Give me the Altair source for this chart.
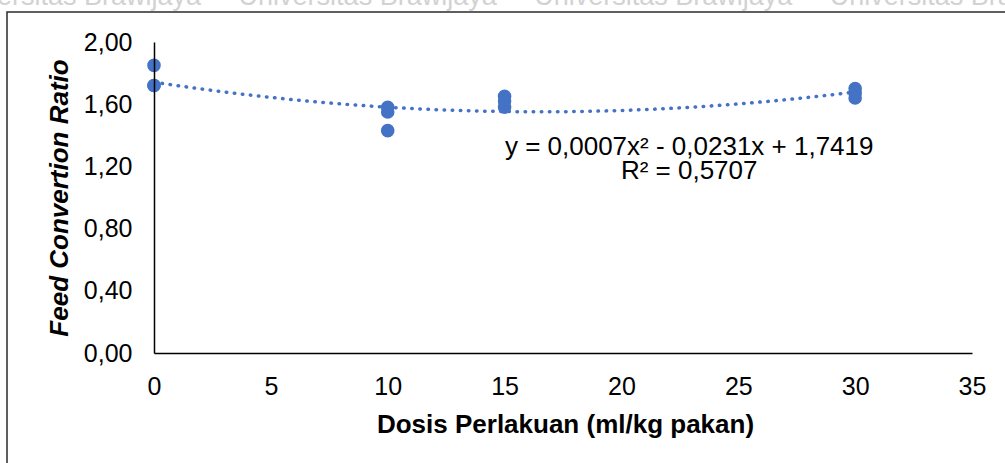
import altair as alt
import numpy as np
import pandas as pd

# Feed conversion ratio per dose, three replicates each
dose = [0, 0, 0, 10, 10, 10, 15, 15, 15, 30, 30, 30]
fcr = [1.85, 1.72, 1.72, 1.58, 1.55, 1.43, 1.65, 1.62, 1.58, 1.70, 1.67, 1.64]

# Quadratic trendline coefficients (y = a*x^2 + b*x + c)
coef_a, coef_b, coef_c = 0.0007, -0.0231, 1.7419
r_squared = 0.5707

x_ticks = [0, 5, 10, 15, 20, 25, 30, 35]
y_ticks = [0.0, 0.4, 0.8, 1.2, 1.6, 2.0]

equation_lines = [
    "y = 0,0007x\u00b2 - 0,0231x + 1,7419",
    "R\u00b2 = 0,5707",
]
equation_x = [22.9, 22.9]
equation_y = [1.272, 1.118]

FONT = "Liberation Sans"
BLUE = "#4472C4"

points = pd.DataFrame({"dose": dose, "fcr": fcr})
trend_x = np.linspace(0, 30, 121)
trend = pd.DataFrame({"dose": trend_x,
                      "fcr": coef_a * trend_x ** 2 + coef_b * trend_x + coef_c})
notes = pd.DataFrame({"text": equation_lines, "dose": equation_x, "fcr": equation_y})

x_scale = alt.Scale(domain=[0, 35], nice=False, zero=False)
y_scale = alt.Scale(domain=[0, 2], nice=False)

x_axis = alt.Axis(
    values=x_ticks, title="Dosis Perlakuan (ml/kg pakan)", grid=False,
    ticks=False, tickSize=0, domainColor="black", domainWidth=1.5,
    labelFont=FONT, labelFontSize=25, labelColor="black", labelPadding=21,
    labelFlush=False,
    titleFont=FONT, titleFontSize=26, titleFontWeight="bold", titleColor="black",
    titleBaseline="alphabetic", titleY=79, titleX=411, zindex=1,
)
y_axis = alt.Axis(
    values=y_ticks, title="Feed Convertion Ratio", grid=False,
    ticks=False, tickSize=0, domainColor="black", domainWidth=1.5,
    labelFont=FONT, labelFontSize=25, labelColor="black", labelPadding=22,
    labelFlush=False,
    labelExpr="replace(format(datum.value, '.2f'), '.', ',')",
    titleFont=FONT, titleFontSize=26, titleFontWeight="bold",
    titleFontStyle="italic", titleColor="black",
    titleBaseline="alphabetic", titleX=-87, zindex=1,
)

one_row = alt.Data(values=[{"k": 1}])

sep = "\u00a0" * 5
watermark = alt.Chart(one_row).mark_text(
    text=sep.join(["Universitas Brawijaya"] * 5),
    font=FONT, fontSize=27, color="#d2d2d2", align="left", baseline="alphabetic",
).encode(x=alt.value(-211), y=alt.value(-37))

frame = alt.Chart(one_row).mark_rect(
    fill="white", stroke="#2b2b2b", strokeWidth=1.5,
).encode(x=alt.value(-147), x2=alt.value(900), y=alt.value(-30), y2=alt.value(500))

trend_line = alt.Chart(trend).mark_line(
    color=BLUE, strokeWidth=3.5, strokeDash=[0.5, 7.6], strokeCap="round",
).encode(
    x=alt.X("dose:Q", scale=x_scale, axis=x_axis),
    y=alt.Y("fcr:Q", scale=y_scale, axis=y_axis),
)

dots = alt.Chart(points).mark_circle(size=185, opacity=1, color=BLUE).encode(
    x=alt.X("dose:Q", scale=x_scale),
    y=alt.Y("fcr:Q", scale=y_scale),
)

labels = alt.Chart(notes).mark_text(
    font=FONT, fontSize=26, color="black", align="center", baseline="alphabetic",
).encode(
    x=alt.X("dose:Q", scale=x_scale),
    y=alt.Y("fcr:Q", scale=y_scale),
    text="text:N",
)

chart = alt.layer(watermark, frame, trend_line, dots, labels).properties(
    width=818, height=311,
    autosize=alt.AutoSizeParams(type="none"),
    padding={"left": 154, "top": 42, "right": 33, "bottom": 110},
    background="white",
).configure_view(stroke=None)

chart.save("out.html", embed_options={"renderer": "svg", "actions": False})
